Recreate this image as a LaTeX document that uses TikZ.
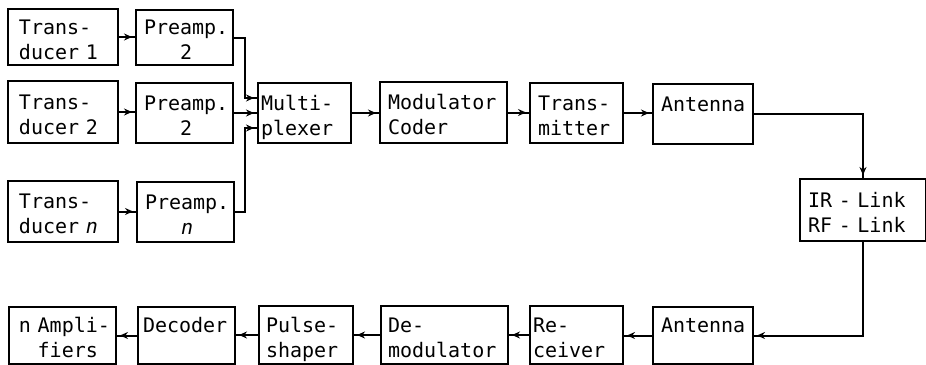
\documentclass[tikz,border=0pt]{standalone}
\usepackage{fontspec}
\newfontfamily\mono{DejaVu Sans Mono}
\usetikzlibrary{arrows.meta,decorations.markings,calc}
\tikzset{
  blk/.style={draw, line width=2pt, anchor=north west, align=left,
    inner ysep=0pt, font=\mono\fontsize{20}{25}\selectfont},
  conn/.style={line width=2pt, postaction={decorate},
    decoration={markings, mark=at position -3pt with {\arrow{Stealth[length=8pt,width=7pt]}}}},
}
\newcommand\twol[2]{\rule{0pt}{19pt}\mbox{#1}\\\smash{\mbox{#2}}}
\begin{document}
\begin{tikzpicture}[x=1pt,y=-1pt]
\useasboundingbox (0,0) rectangle (926,364);
% top section
\node[blk, inner xsep=11pt, text width=88pt, minimum height=56pt] (t1) at (7,8) {\twol{Trans-}{ducer 1}};
\node[blk, inner xsep=8pt, text width=81pt, minimum height=55pt] (p1) at (135,9) {\twol{Preamp.}{\phantom{Pre}2}};
\node[blk, inner xsep=11pt, text width=88pt, minimum height=62pt] (t2) at (7,80) {\twol{Trans-}{ducer 2}};
\node[blk, inner xsep=8pt, text width=81pt, minimum height=60pt] (p2) at (135,82) {\twol{Preamp.}{\phantom{Pre}2}};
\node[blk, inner xsep=11pt, text width=88pt, minimum height=61pt] (tn) at (7,180) {\twol{Trans-}{ducer \textit{n}}};
\node[blk, inner xsep=8pt, text width=81pt, minimum height=60pt] (pn) at (136,181) {\twol{Preamp.}{\phantom{Pre}\textit{n}}};
\node[blk, inner xsep=3pt, text width=87pt, minimum height=60pt] (mux) at (257,82) {\twol{Multi-}{plexer}};
\node[blk, inner xsep=8pt, text width=111pt, minimum height=61pt] (mod) at (379,81) {\twol{Modulator}{Coder}};
\node[blk, inner xsep=8pt, text width=77pt, minimum height=60pt] (tx) at (529,82) {\twol{Trans-}{mitter}};
\node[blk, inner xsep=8pt, text width=84pt, minimum height=60pt] (antT) at (652,83) {\twol{Antenna}{}};
\node[blk, inner xsep=8pt, text width=110pt, minimum height=62pt] (link) at (799,178) {\twol{IR - Link}{RF - Link}};
% bottom row
\node[blk, inner xsep=8pt, text width=84pt, minimum height=57pt] (antB) at (652,306) {\twol{Antenna}{}};
\node[blk, inner xsep=3pt, text width=87pt, minimum height=58pt] (rx) at (529,305) {\twol{Re-}{ceiver}};
\node[blk, inner xsep=7pt, text width=113pt, minimum height=58pt] (demod) at (380,305) {\twol{De-}{modulator}};
\node[blk, inner xsep=7pt, text width=80pt, minimum height=58pt] (pulse) at (258,305) {\twol{Pulse-}{shaper}};
\node[blk, inner xsep=5pt, text width=87pt, minimum height=57pt] (dec) at (137,306) {\twol{Decoder}{}};
\node[blk, inner xsep=10pt, text width=87pt, minimum height=57pt] (amp) at (8,306) {\twol{n Ampli-}{\phantom{n }fiers}};
% connectors
\draw[conn] (t1.east) -- (t1.east -| p1.west);
\draw[conn] (t2.east) -- (t2.east -| p2.west);
\draw[conn] (tn.east) -- (tn.east -| pn.west);
\draw[conn] (p1.east) -| ($(mux.west)+(-12,-15)$) -- ($(mux.west)+(0,-15)$);
\draw[conn] (p2.east) -- (p2.east -| mux.west);
\draw[conn] (pn.east) -| ($(mux.west)+(-12,15)$) -- ($(mux.west)+(0,15)$);
\draw[conn] (mux.east) -- (mux.east -| mod.west);
\draw[conn] (mod.east) -- (mod.east -| tx.west);
\draw[conn] (tx.east) -- (tx.east -| antT.west);
\draw[conn] (antT.east) -| (link.north);
\draw[conn] (link.south) |- (antB.east);
\draw[conn] (antB.west) -- (antB.west -| rx.east);
\draw[conn] (rx.west) -- (rx.west -| demod.east);
\draw[conn] (demod.west) -- (demod.west -| pulse.east);
\draw[conn] (pulse.west) -- (pulse.west -| dec.east);
\draw[conn] (dec.west) -- (dec.west -| amp.east);
\end{tikzpicture}
\end{document}
